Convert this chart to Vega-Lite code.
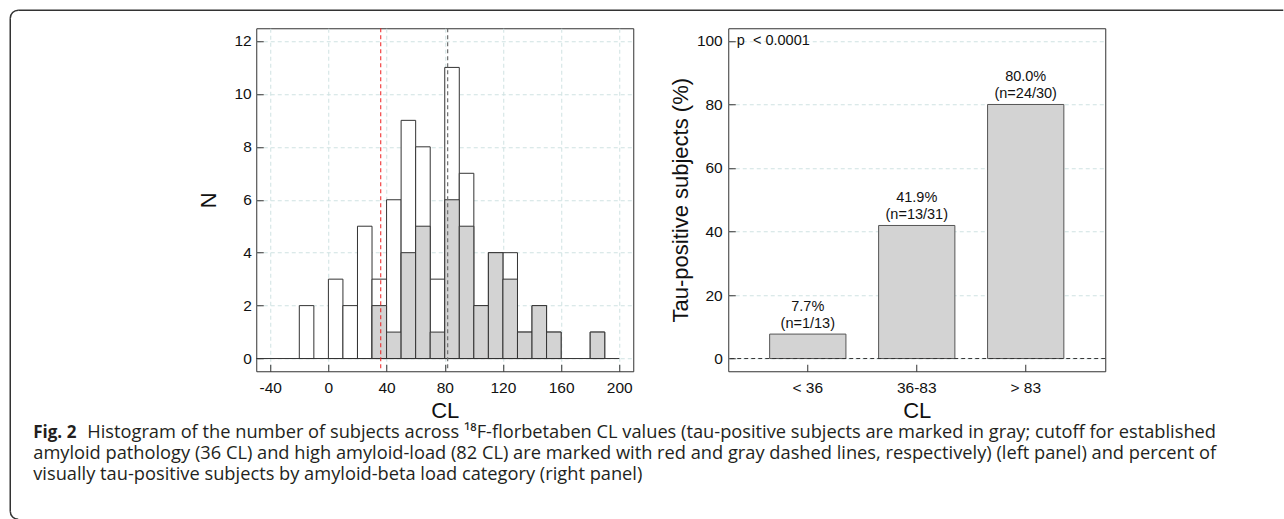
{
  "$schema": "https://vega.github.io/schema/vega-lite/v6.json",
  "padding": {"left": 9.25, "top": 9.25, "right": 0, "bottom": 0},
  "autosize": {"type": "pad"},
  "background": "white",
  "columns": 2,
  "align": "none",
  "bounds": "flush",
  "spacing": {"row": 49, "column": 95},
  "config": {
    "view": {"stroke": "#333", "strokeWidth": 1},
    "font": "Liberation Sans",
    "axis": {
      "labelFont": "Liberation Sans",
      "titleFont": "Liberation Sans",
      "labelColor": "#111",
      "titleColor": "#111",
      "tickColor": "#333",
      "titleFontWeight": "normal",
      "domain": false,
      "labelFontSize": 15.5,
      "titleFontSize": 22,
      "labelOverlap": false,
      "gridColor": "#cfe2e2",
      "gridDash": [4, 3],
      "gridWidth": 1
    }
  },
  "concat": [
    {
      "width": 377,
      "height": 343,
      "data": {
        "values": [
          {"lo": -20, "hi": -10, "total": 2, "pos": 0},
          {"lo": 0, "hi": 10, "total": 3, "pos": 0},
          {"lo": 10, "hi": 20, "total": 2, "pos": 0},
          {"lo": 20, "hi": 30, "total": 5, "pos": 0},
          {"lo": 30, "hi": 40, "total": 3, "pos": 2},
          {"lo": 40, "hi": 50, "total": 6, "pos": 1},
          {"lo": 50, "hi": 60, "total": 9, "pos": 4},
          {"lo": 60, "hi": 70, "total": 8, "pos": 5},
          {"lo": 70, "hi": 80, "total": 3, "pos": 1},
          {"lo": 80, "hi": 90, "total": 11, "pos": 6},
          {"lo": 90, "hi": 100, "total": 7, "pos": 5},
          {"lo": 100, "hi": 110, "total": 2, "pos": 2},
          {"lo": 110, "hi": 120, "total": 4, "pos": 4},
          {"lo": 120, "hi": 130, "total": 4, "pos": 3},
          {"lo": 130, "hi": 140, "total": 1, "pos": 1},
          {"lo": 140, "hi": 150, "total": 2, "pos": 2},
          {"lo": 150, "hi": 160, "total": 1, "pos": 1},
          {"lo": 180, "hi": 190, "total": 1, "pos": 1}
        ]
      },
      "layer": [
        {
          "mark": {"type": "rect", "fill": "white", "stroke": "#333", "strokeWidth": 1},
          "encoding": {
            "x": {
              "field": "lo", "type": "quantitative",
              "scale": {"domain": [-49.6, 209.6], "nice": false, "zero": false},
              "axis": {
                "values": [-40, 0, 40, 80, 120, 160, 200],
                "title": "CL",
                "grid": true,
                "tickSize": -7,
                "labelPadding": 16,
                "titlePadding": 5,
                "labelExpr": "datum.value + ''"
              }
            },
            "x2": {"field": "hi"},
            "y": {
              "field": "total", "type": "quantitative",
              "scale": {"domain": [-0.48, 12.48], "nice": false, "zero": false},
              "axis": {
                "values": [0, 1, 2, 3, 4, 5, 6, 7, 8, 9, 10, 11, 12],
                "title": "N",
                "grid": true,
                "tickSize": -7,
                "labelPadding": 12,
                "titlePadding": 14
              }
            },
            "y2": {"datum": 0}
          }
        },
        {
          "transform": [{"filter": "datum.pos > 0"}],
          "mark": {"type": "rect", "fill": "#d3d3d3", "stroke": "#333", "strokeWidth": 1},
          "encoding": {
            "x": {"field": "lo", "type": "quantitative"},
            "x2": {"field": "hi"},
            "y": {"field": "pos", "type": "quantitative"},
            "y2": {"datum": 0}
          }
        },
        {
          "data": {"values": [{"xa": -49.6, "xb": 200, "yv": 0}]},
          "mark": {"type": "rule", "color": "#333", "strokeWidth": 1},
          "encoding": {
            "x": {"field": "xa", "type": "quantitative"},
            "x2": {"field": "xb"},
            "y": {"field": "yv", "type": "quantitative"}
          }
        },
        {
          "data": {"values": [{"cut": 36}]},
          "mark": {"type": "rule", "color": "#ee1c1c", "strokeWidth": 1, "strokeDash": [4, 3]},
          "encoding": {"x": {"field": "cut", "type": "quantitative"}}
        },
        {
          "data": {"values": [{"cut": 82}]},
          "mark": {"type": "rule", "color": "#6e6e6e", "strokeWidth": 1.2, "strokeDash": [4, 3]},
          "encoding": {"x": {"field": "cut", "type": "quantitative"}}
        }
      ]
    },
    {
      "width": 377,
      "height": 343,
      "data": {
        "values": [
          {"cat": "< 36", "pct": 7.7, "lbl": ["7.7%", "(n=1/13)"]},
          {"cat": "36-83", "pct": 41.9, "lbl": ["41.9%", "(n=13/31)"]},
          {"cat": "> 83", "pct": 80.0, "lbl": ["80.0%", "(n=24/30)"]}
        ]
      },
      "layer": [
        {
          "mark": {"type": "bar", "fill": "#d3d3d3", "stroke": "#555", "strokeWidth": 1},
          "encoding": {
            "x": {
              "field": "cat", "type": "nominal", "sort": null,
              "scale": {"domain": ["< 36", "36-83", "> 83"], "paddingInner": 0.3, "paddingOuter": 0.38},
              "axis": {"title": "CL", "labelAngle": 0, "tickSize": -7, "labelPadding": 16, "titlePadding": 5}
            },
            "y": {
              "field": "pct", "type": "quantitative",
              "scale": {"domain": [-4, 104], "nice": false, "zero": false},
              "axis": {
                "values": [0, 20, 40, 60, 80, 100],
                "title": "Tau-positive subjects (%)",
                "grid": true,
                "tickSize": -7,
                "labelPadding": 13,
                "titlePadding": 4
              }
            },
            "y2": {"datum": 0}
          }
        },
        {
          "data": {"values": [{"yv": 0}]},
          "mark": {"type": "rule", "color": "#333", "strokeWidth": 1, "strokeDash": [4, 3]},
          "encoding": {"y": {"field": "yv", "type": "quantitative"}}
        },
        {
          "mark": {"type": "text", "font": "Liberation Sans", "fontSize": 14.5, "baseline": "bottom", "dy": -20, "lineHeight": 16.5, "color": "#111"},
          "encoding": {
            "x": {"field": "cat", "type": "nominal", "sort": null},
            "y": {"field": "pct", "type": "quantitative"},
            "text": {"field": "lbl"}
          }
        },
        {
          "data": {"values": [{"cat": "< 36", "yv": 100, "t": "p\u00a0 < 0.0001"}]},
          "mark": {"type": "text", "font": "Liberation Sans", "fontSize": 14.5, "align": "left", "baseline": "middle", "dx": -71, "color": "#111"},
          "encoding": {
            "x": {"field": "cat", "type": "nominal"},
            "y": {"field": "yv", "type": "quantitative"},
            "text": {"field": "t"}
          }
        }
      ]
    },
    {
      "width": 377,
      "height": 70,
      "view": {"stroke": null},
      "layer": [
        {
          "data": {"values": [{"x": -223, "y": 12.5, "t": "Fig. 2"}]},
          "mark": {"type": "text", "font": "Open Sans", "fontSize": 17, "fontWeight": "bold", "align": "left", "baseline": "middle", "color": "#231f20"},
          "encoding": {
            "x": {"field": "x", "type": "quantitative", "scale": {"domain": [0, 377], "nice": false, "zero": false}, "axis": null},
            "y": {"field": "y", "type": "quantitative", "scale": {"domain": [0, 70], "nice": false, "zero": false, "reverse": true}, "axis": null},
            "text": {"field": "t"}
          }
        },
        {
          "data": {"values": [
            {"x": -169, "y": 12.5, "t": "Histogram of the number of subjects across ¹⁸F-florbetaben CL values (tau-positive subjects are marked in gray; cutoff for established"},
            {"x": -223, "y": 33.5, "t": "amyloid pathology (36 CL) and high amyloid-load (82 CL) are marked with red and gray dashed lines, respectively) (left panel) and percent of"},
            {"x": -223, "y": 54.5, "t": "visually tau-positive subjects by amyloid-beta load category (right panel)"}
          ]},
          "mark": {"type": "text", "font": "Open Sans", "fontSize": 18.25, "align": "left", "baseline": "middle", "color": "#231f20"},
          "encoding": {
            "x": {"field": "x", "type": "quantitative"},
            "y": {"field": "y", "type": "quantitative"},
            "text": {"field": "t"}
          }
        },
        {
          "data": {"values": [
            {"xa": -246, "xb": -246, "ya": -402, "yb": 91},
            {"xa": -238, "xb": 1027, "ya": -410, "yb": -410}
          ]},
          "mark": {"type": "rule", "color": "#333", "strokeWidth": 1.5},
          "encoding": {
            "x": {"field": "xa", "type": "quantitative"},
            "x2": {"field": "xb"},
            "y": {"field": "ya", "type": "quantitative"},
            "y2": {"field": "yb"}
          }
        },
        {
          "data": {"values": [{"cx": -238, "cy": -402}]},
          "mark": {"type": "arc", "radius": 8.75, "radius2": 7.25, "theta": 4.7124, "theta2": 6.2832, "fill": "#333"},
          "encoding": {
            "x": {"field": "cx", "type": "quantitative"},
            "y": {"field": "cy", "type": "quantitative"}
          }
        },
        {
          "data": {"values": [{"cx": -238, "cy": 91}]},
          "mark": {"type": "arc", "radius": 8.75, "radius2": 7.25, "theta": 3.1416, "theta2": 4.7124, "fill": "#333"},
          "encoding": {
            "x": {"field": "cx", "type": "quantitative"},
            "y": {"field": "cy", "type": "quantitative"}
          }
        }
      ]
    }
  ]
}
